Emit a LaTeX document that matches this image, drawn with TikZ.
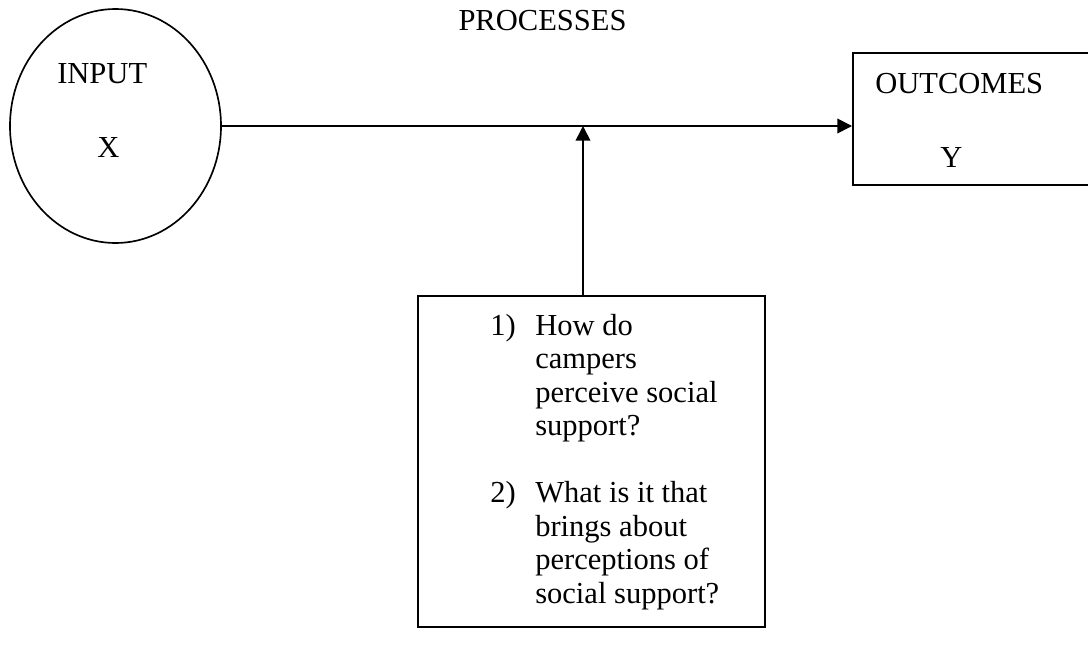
\documentclass[tikz,border=0pt]{standalone}
\usepackage{fontspec}
\setmainfont{Liberation Serif}
\usetikzlibrary{shapes.geometric,arrows.meta}
\begin{document}
\begin{tikzpicture}[x=0.75pt,y=-0.75pt,
  txt/.style={font=\fontsize{22.9}{25.1}\selectfont, inner sep=0pt, anchor=base west},
  frame/.style={draw, line width=1.25pt, inner sep=0pt},
  arr/.style={line width=1.25pt, -{Triangle[length=11pt,width=11pt]}}]
\clip (0,0) rectangle (1088,646);
\fill[white] (0,0) rectangle (1088,646);
% shapes
\node[frame, ellipse, minimum width=158.25pt, minimum height=175.5pt] (input) at (115.5,126) {};
\node[frame, rectangle, minimum width=187pt, minimum height=99pt] (outcomes) at (977.5,119) {};
\node[frame, rectangle, minimum width=260.25pt, minimum height=248.25pt] (q) at (591.5,461.5) {};
% labels
\node[txt, anchor=base] (proc) at (542.5,30) {PROCESSES};
\node[txt] (inlab) at (57,83) {INPUT};
\node[txt] (xlab) at (97,157) {X};
\node[txt] (outlab) at (875,93) {OUTCOMES};
\node[txt] (ylab) at (940,167) {Y};
\node[txt] (n1) at (490,335) {1)};
\node[txt] (n2) at (490,502.5) {2)};
\foreach \t [count=\i] in {How do, campers, perceive social, support?}
  \node[txt] (a\i) at (535,{335+33.5*(\i-1)}) {\t};
\foreach \t [count=\i] in {What is it that, brings about, perceptions of, social support?}
  \node[txt] (b\i) at (535,{502.5+33.5*(\i-1)}) {\t};
% connectors
\draw[arr] (input.east) -- (input.east -| outcomes.west);
\coordinate (join) at (583,126);
\draw[arr] (join |- q.north) -- (join);
\end{tikzpicture}
\end{document}
